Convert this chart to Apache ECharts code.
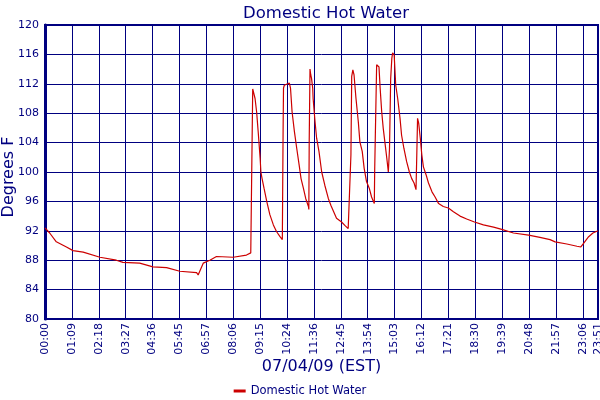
<!DOCTYPE html>
<html>
<head>
<meta charset="utf-8">
<style>
  html, body { margin: 0; padding: 0; background: #fff; }
  #chart { width: 600px; height: 400px; }
</style>
<script src="https://cdn.jsdelivr.net/npm/echarts@6/dist/echarts.min.js"></script>
</head>
<body>
<div id="chart"></div>
<script>
// minutes since midnight (axis scale)
const minutes = [
  0, 12, 29, 55, 72, 98, 141, 183, 200, 243, 277, 312, 346, 389, 393, 406, 423, 440, 483, 517, 528,
  531, 533, 535, 539, 543, 547, 552, 554, 557, 562, 569, 577, 586, 594, 603, 609,
  611, 612, 614, 619, 627, 630, 634, 640, 646, 652, 657, 663, 669, 676, 677,
  678, 680, 682, 684, 687, 688, 693, 697, 703, 710, 718, 727, 734, 748, 761, 770, 778, 783,
  785, 787, 790, 793, 798, 804, 808, 814, 819, 825, 832, 838, 845,
  846, 851, 853, 857, 860, 864, 868, 873, 877, 881,
  884, 887, 890, 892, 896, 900, 905, 911, 915, 921, 928, 935, 941, 947, 952,
  954, 956, 959, 963, 967, 971, 978, 984, 993, 1001, 1010, 1022, 1035, 1048, 1065, 1082,
  1102, 1125, 1151, 1172, 1202, 1241, 1270, 1296, 1309, 1339, 1365, 1375, 1382, 1395, 1406, 1419
];
const temps = [
  92.4, 91.7, 90.5, 89.8, 89.3, 89.1, 88.4, 88.0, 87.7, 87.6, 87.1, 87.0, 86.5, 86.3, 86.0, 87.6, 88.0, 88.5, 88.4, 88.7, 89.0,
  89.2, 111.3, 111.2, 110.0, 108.2, 105.5, 101.9, 100.0, 99.1, 97.8, 96.0, 94.2, 92.8, 91.9, 91.2, 90.8,
  105.9, 111.4, 111.8, 112.0, 112.1, 111.4, 108.2, 105.5, 103.2, 101.0, 99.1, 97.8, 96.4, 95.3, 94.9,
  104.4, 114.0, 113.2, 112.7, 111.4, 110.0, 106.8, 104.6, 102.8, 100.0, 98.2, 96.4, 95.4, 93.7, 93.2, 92.7, 92.3, 92.2,
  102.3, 113.0, 113.9, 113.2, 110.0, 106.8, 104.1, 102.8, 100.5, 98.7, 97.8, 96.6, 95.7,
  100.3, 114.6, 114.8, 114.3, 111.4, 108.2, 105.9, 103.7, 101.9, 100.0,
  103.2, 112.7, 115.5, 116.2, 115.9, 111.8, 110.0, 107.3, 105.0, 103.2, 101.4, 100.0, 99.1, 98.5, 97.6,
  102.3, 107.3, 106.6, 104.6, 102.3, 100.7, 99.6, 98.5, 97.3, 96.6, 95.7, 95.3, 95.1, 94.6, 94.0, 93.6,
  93.2, 92.8, 92.5, 92.2, 91.7, 91.4, 91.1, 90.8, 90.5, 90.2, 89.9, 89.8, 90.3, 91.2, 91.7, 92.0
];
const tickLabels = [
  "00:00", "01:09", "02:18", "03:27", "04:36", "05:45", "06:57", "08:06", "09:15", "10:24", "11:36",
  "12:45", "13:54", "15:03", "16:12", "17:21", "18:30", "19:39", "20:48", "21:57", "23:06", "23:51"
];
const yTicks = [80, 84, 88, 92, 96, 100, 104, 108, 112, 116, 120];

const navy = "#000080";
const font = "DejaVu Sans";
const tickStep = 69;
const xMax = 1419;

const chart = echarts.init(document.getElementById("chart"), null, { renderer: "canvas" });

chart.setOption({
  animation: false,
  textStyle: { fontFamily: font, color: navy },
  title: {
    text: "Domestic Hot Water",
    left: 321,
    top: 0,
    textAlign: "center",
    textStyle: { fontFamily: font, color: navy, fontSize: 16.5, fontWeight: "normal" },
  },
  grid: {
    left: 45, right: 2, top: 25, bottom: 81,
    outerBoundsMode: "none",
    containLabel: false,
    show: true, borderColor: navy, borderWidth: 2,
  },
  legend: {
    bottom: -2,
    left: "center",
    icon: "rect",
    itemWidth: 12,
    itemHeight: 3,
    itemGap: 4,
    textStyle: { fontFamily: font, color: navy, fontSize: 11.5 },
    data: ["Domestic Hot Water"],
  },
  xAxis: {
    type: "value",
    min: 0,
    max: xMax,
    interval: tickStep,
    name: "07/04/09 (EST)",
    nameLocation: "middle",
    nameGap: 40,
    nameMoveOverlap: false,
    nameTextStyle: { fontFamily: font, color: navy, fontSize: 16, verticalAlign: "top" },
    axisLine: { lineStyle: { color: navy, width: 2 } },
    axisTick: { show: false },
    axisLabel: {
      rotate: 90,
      margin: 4,
      fontSize: 11,
      color: navy,
      fontFamily: font,
      showMaxLabel: true,
      hideOverlap: false,
      formatter: (value) => {
        if (value >= xMax) return tickLabels[tickLabels.length - 1];
        return tickLabels[Math.round(value / tickStep)] || "";
      },
    },
    splitLine: { show: true, lineStyle: { color: navy, width: 1 } },
  },
  yAxis: {
    type: "value",
    min: yTicks[0],
    max: yTicks[yTicks.length - 1],
    interval: 4,
    name: "Degrees F",
    nameLocation: "middle",
    nameGap: 28,
    nameMoveOverlap: false,
    nameTextStyle: { fontFamily: font, color: navy, fontSize: 16, padding: [0, 10, 0, 0] },
    axisLine: { show: true, lineStyle: { color: navy, width: 3 } },
    axisTick: { show: false },
    axisLabel: { margin: 6, fontSize: 11, color: navy, fontFamily: font },
    splitLine: { show: true, lineStyle: { color: navy, width: 1 } },
  },
  series: [
    {
      name: "Domestic Hot Water",
      type: "line",
      data: minutes.map((m, i) => [m, temps[i]]),
      symbol: "none",
      color: "#cc0000",
      lineStyle: { color: "#cc0000", width: 1.2 },
    },
  ],
});
</script>
</body>
</html>
